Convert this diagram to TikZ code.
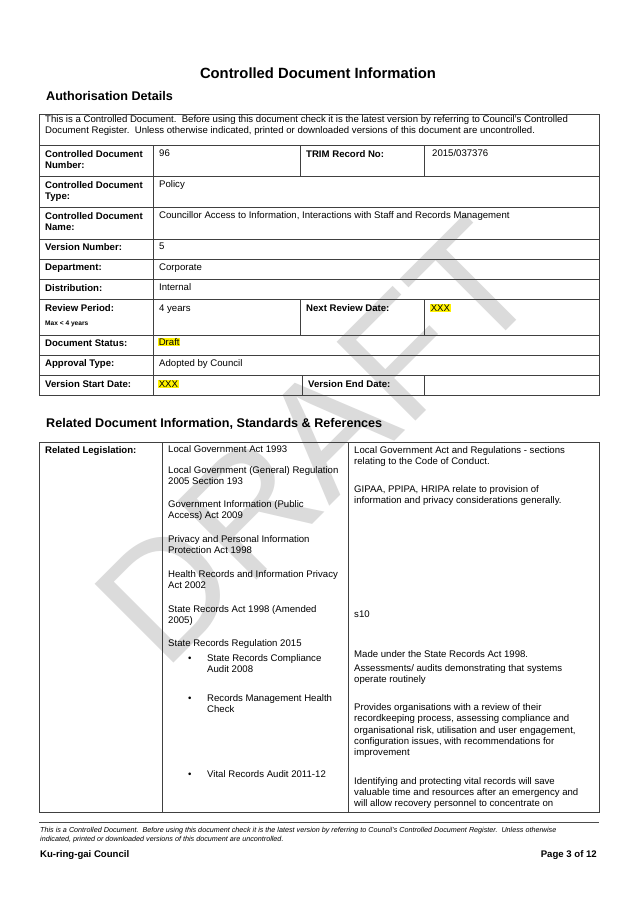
\documentclass[tikz,border=0pt]{standalone}
\usepackage{fontspec}
\setmainfont{Liberation Sans}
\begin{document}
\begin{tikzpicture}[x=1pt,y=-1pt,
  tx/.style={anchor=mid west,inner sep=0pt,font=\fontsize{9.6}{11}\selectfont,align=left},
  bx/.style={tx,font=\bfseries\fontsize{9.6}{11}\selectfont},
  grid/.style={draw=black!75,line width=0.6pt},
  hl/.style={tx,fill=yellow,inner sep=0.6pt}]
\useasboundingbox (0,0) rectangle (638,900);
\fill[white] (0,0) rectangle (638,900);
% watermark
\node[rotate=45,text=black!14,inner sep=0] (wm) at (316,442) {\fontsize{162}{162}\selectfont DRAFT};
% headings
\node[font=\bfseries\fontsize{14.8}{16}\selectfont,inner sep=0] (title) at (318,73) {Controlled Document Information};
\node[font=\bfseries\fontsize{12.6}{14}\selectfont,inner sep=0,anchor=mid west] (h1) at (46,98) {Authorisation Details};
\node[font=\bfseries\fontsize{12.6}{14}\selectfont,inner sep=0,anchor=mid west] (h2) at (46,425) {Related Document Information, Standards \& References};
% top table grid
\draw[grid] (39,114) rectangle (599,395);
\foreach \y in {145,176,207,239,259,279,299,335,355,375} \draw[grid] (39,\y) -- (599,\y);
\draw[grid] (153,145) -- (153,395);
\draw[grid] (300,145) -- (300,176) (424,145) -- (424,176);
\draw[grid] (300,299) -- (300,335) (424,299) -- (424,335);
\draw[grid] (302,375) -- (302,395) (424,375) -- (424,395);
% top table texts
\node[tx] (a0) at (45,120) {This is a Controlled Document.\ \ Before using this document check it is the latest version by referring to Council's Controlled};
\node[tx] (a0b) at (45,131) {Document Register.\ \ Unless otherwise indicated, printed or downloaded versions of this document are uncontrolled.};
\node[bx] (a1) at (45,155) {Controlled Document};
\node[bx] (a1x) at (45,166) {Number:};
\node[tx] (a1b) at (159,154) {96};
\node[bx] (a1c) at (306,155) {TRIM Record No:};
\node[tx] (a1d) at (432,154) {2015/037376};
\node[bx] (a2) at (45,186) {Controlled Document};
\node[bx] (a2x) at (45,197) {Type:};
\node[tx] (a2b) at (159,185) {Policy};
\node[bx] (a3) at (45,217) {Controlled Document};
\node[bx] (a3x) at (45,228) {Name:};
\node[tx] (a3b) at (159,216) {Councillor Access to Information, Interactions with Staff and Records Management};
\node[bx] (a4) at (45,248) {Version Number:};
\node[tx] (a4b) at (159,247) {5};
\node[bx] (a5) at (45,268) {Department:};
\node[tx] (a5b) at (159,268) {Corporate};
\node[bx] (a6) at (45,289) {Distribution:};
\node[tx] (a6b) at (159,288) {Internal};
\node[bx] (a7) at (45,309) {Review Period:};
\node[bx,font=\bfseries\fontsize{6.6}{7}\selectfont] (a7m) at (45,323) {Max < 4 years};
\node[tx] (a7b) at (159,309) {4 years};
\node[bx] (a7c) at (306,309) {Next Review Date:};
\node[hl] (a7d) at (430,309) {XXX};
\node[bx] (a8) at (45,344) {Document Status:};
\node[hl] (a8b) at (158,343) {Draft};
\node[bx] (a9) at (45,364) {Approval Type:};
\node[tx] (a9b) at (159,364) {Adopted by Council};
\node[bx] (a10) at (45,385) {Version Start Date:};
\node[hl] (a10b) at (158,385) {XXX};
\node[bx] (a10c) at (308,385) {Version End Date:};
% bottom table grid
\draw[grid] (39,442) rectangle (599,812);
\draw[grid] (162,442) -- (162,812) (348,442) -- (348,812);
\node[bx] (b0) at (45,451) {Related Legislation:};
\foreach \n/\y/\t in {c1/450/{Local Government Act 1993},c2/471/{Local Government (General) Regulation},c3/482/{2005 Section 193},c4/505/{Government Information (Public},c5/516/{Access) Act 2009},c6/540/{Privacy and Personal Information},c7/551/{Protection Act 1998},c8/575/{Health Records and Information Privacy},c9/586/{Act 2002},c10/610/{State Records Act 1998 (Amended},c11/621/{2005)},c12/644/{State Records Regulation 2015}}
  \node[tx] (\n) at (168,\y) {\t};
\foreach \n/\y/\t in {d1/659/{State Records Compliance},d2/670/{Audit 2008},d3/699/{Records Management Health},d4/710/{Check},d5/775/{Vital Records Audit 2011-12}}
  \node[tx] (\n) at (207,\y) {\t};
\foreach \n/\y in {e1/659,e3/699,e5/775} \node[tx] (\n) at (188,\y) {\textbullet};
\foreach \n/\y/\t in {f1/451/{Local Government Act and Regulations - sections},f2/462/{relating to the Code of Conduct.},f3/490/{GIPAA, PPIPA, HRIPA relate to provision of},f4/501/{information and privacy considerations generally.},f5/615/{s10},f6/655/{Made under the State Records Act 1998.},f7/669/{Assessments/ audits demonstrating that systems},f8/680/{operate routinely},f9/708/{Provides organisations with a review of their},f10/719/{recordkeeping process, assessing compliance and},f11/731/{organisational risk, utilisation and user engagement,},f12/742/{configuration issues, with recommendations for},f13/753/{improvement},f14/782/{Identifying and protecting vital records will save},f15/793/{valuable time and resources after an emergency and},f16/804/{will allow recovery personnel to concentrate on}}
  \node[tx] (\n) at (354,\y) {\t};
% footer
\draw[black!70,line width=0.6pt] (39,822) -- (599,822);
\node[tx,font=\itshape\fontsize{7.2}{9}\selectfont] (g1) at (40,830) {This is a Controlled Document.\ \ Before using this document check it is the latest version by referring to Council's Controlled Document Register.\ \ Unless otherwise};
\node[tx,font=\itshape\fontsize{7.2}{9}\selectfont] (g2) at (40,839) {indicated, printed or downloaded versions of this document are uncontrolled.};
\node[bx] (g3) at (40,855) {Ku-ring-gai Council};
\node[bx,anchor=mid east] (g4) at (597,855) {Page 3 of 12};
\end{tikzpicture}
\end{document}
